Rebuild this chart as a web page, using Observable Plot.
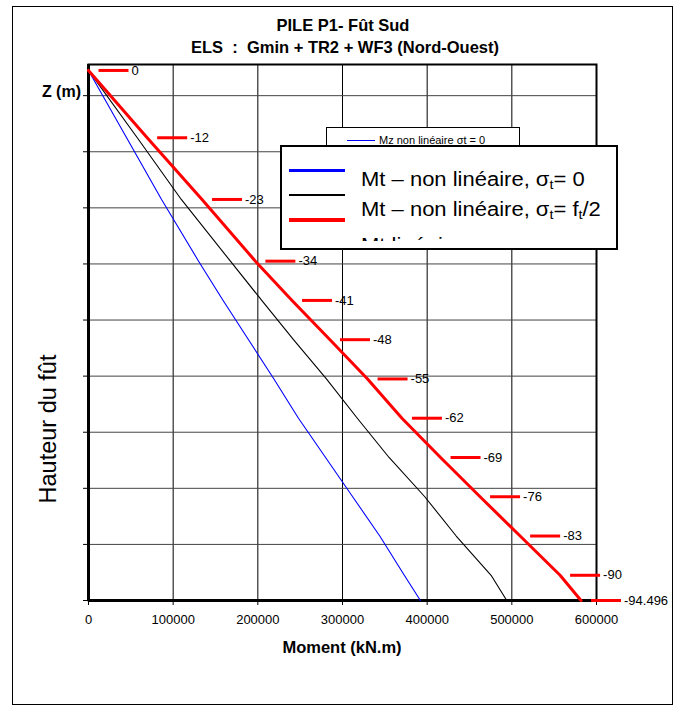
<!DOCTYPE html>
<html>
<head>
<meta charset="utf-8">
<script src="https://cdn.jsdelivr.net/npm/d3@7"></script>
<script src="https://cdn.jsdelivr.net/npm/@observablehq/plot@0.6"></script>
<style>
  body { margin: 0; background: #fff; font-family: "Liberation Sans", Arial, sans-serif; color: #000; }
  #wrap { position: relative; width: 675px; height: 708px; overflow: hidden; background: #fff; }
  #wrap svg { position: absolute; left: 0; top: 0; }
  .abs { position: absolute; white-space: pre; line-height: 1; }
  .bold { font-weight: bold; }
  .sample { position: absolute; }
  .wide { transform: scaleX(1.1); transform-origin: 0 50%; }
  sub { font-size: 0.65em; vertical-align: -0.25em; line-height: 0; }
</style>
</head>
<body>
<div id="wrap">
  <div class="abs" style="left:12px;top:6px;width:661px;height:699px;border:1.5px solid #000;box-sizing:border-box;"></div>

  <div class="abs bold" style="left:0;width:686px;top:17px;font-size:16.5px;text-align:center;">PILE P1- Fût Sud</div>
  <div class="abs bold" style="left:0;width:690px;top:39px;font-size:16.5px;text-align:center;">ELS  :  Gmin + TR2 + WF3 (Nord-Ouest)</div>
  <div class="abs bold" style="left:0;width:81px;top:84px;font-size:16px;text-align:right;">Z (m)</div>
  <div class="abs bold" style="left:0;width:684px;top:639px;font-size:16.5px;text-align:center;">Moment (kN.m)</div>
  <div class="abs" style="left:-52px;top:414px;width:200px;height:30px;line-height:30px;font-size:23.5px;text-align:center;transform:rotate(-90deg);transform-origin:50% 50%;">Hauteur du fût</div>

  <!-- small legend (partly hidden) -->
  <div class="abs" style="left:326px;top:127px;width:194px;height:30px;border:1px solid #000;background:#fff;box-sizing:border-box;"></div>
  <div class="sample" style="left:347px;top:139.5px;width:28px;height:1px;background:#0000ff;"></div>
  <div class="abs" style="left:379px;top:135px;font-size:11px;">Mz non linéaire σt = 0</div>

  <!-- big legend -->
  <div class="abs" style="left:280px;top:145px;width:338px;height:105px;border:2px solid #000;background:#fff;box-sizing:border-box;"></div>
  <div class="sample" style="left:289px;top:168.5px;width:56px;height:3px;background:#0000ff;"></div>
  <div class="sample" style="left:289px;top:193.8px;width:56px;height:2.5px;background:#000;"></div>
  <div class="sample" style="left:289px;top:218.3px;width:56px;height:3.5px;background:#ff0000;"></div>
  <div class="abs" style="left:282px;top:147px;width:333px;height:94px;overflow:hidden;">
    <div class="abs wide" style="left:79px;top:21.6px;font-size:20px;">Mt – non linéaire, σ<sub>t</sub>= 0</div>
    <div class="abs wide" style="left:79px;top:51.6px;font-size:20px;">Mt – non linéaire, σ<sub>t</sub>= f<sub>t</sub>/2</div>
    <div class="abs wide" style="left:79px;top:88px;font-size:20px;">Mt linéaire</div>
  </div>
</div>
<script>
// Levels along the pile shaft (m) and their labels
const levels = [0, -12, -23, -34, -41, -48, -55, -62, -69, -76, -83, -90, -94.496];
const levelLabels = ["0", "-12", "-23", "-34", "-41", "-48", "-55", "-62", "-69", "-76", "-83", "-90", "-94.496"];
// Moments (kN.m)
const mtRed   = [0, 69300, 134100, 197100, 240400, 285200, 329600, 370200, 415800, 462500, 509800, 557000, 581700];
const mtBlack = [0, 57600, 109600, 167600, 204600, 242100, 281000, 317500, 355000, 397200, 434300, 475500, 494000];
const mtBlue  = [0, 45000, 86300, 130000, 159000, 189000, 219000, 248000, 280000, 312000, 344000, 373000, 392000];
// Axis ticks
const xTicks = [0, 100000, 200000, 300000, 400000, 500000, 600000];
const xGrid = [100000, 200000, 300000, 400000, 500000];
const yTicks = [-94.496, -84.496, -74.496, -64.496, -54.496, -44.496, -34.496, -24.496, -14.496, -4.496];

const rows = levels.map((z, i) => ({z, label: levelLabels[i], red: mtRed[i], black: mtBlack[i], blue: mtBlue[i]}));

const dash = {
  draw(ctx, size) {
    const r = Math.sqrt(size / Math.PI);
    ctx.moveTo(-r, 0);
    ctx.lineTo(r, 0);
  }
};

const chart = Plot.plot({
  width: 675,
  height: 708,
  marginLeft: 88,
  marginRight: 79,
  marginTop: 64,
  marginBottom: 108,
  style: {fontFamily: '"Liberation Sans", Arial, sans-serif', fontSize: "13px", background: "transparent", color: "#000"},
  x: {domain: [0, 600000]},
  y: {domain: [-94.496, 1.06]},
  marks: [
    Plot.gridX(xGrid, {stroke: "#000", strokeOpacity: 1, strokeWidth: 1}),
    Plot.gridY(yTicks, {stroke: "#444", strokeOpacity: 1, strokeWidth: 1}),
    Plot.frame({stroke: "#000", strokeWidth: 2}),
    Plot.axisX(xTicks, {tickSize: 5, tickPadding: 9, tickFormat: d3.format("d"), label: null, fontSize: 13}),
    Plot.axisY(yTicks, {tickSize: 5, tickFormat: () => "", label: null}),
    Plot.ruleX([0], {stroke: "#000", strokeWidth: 3}),
    Plot.ruleY([-94.496], {stroke: "#000", strokeWidth: 3}),
    Plot.line(rows, {x: "blue", y: "z", stroke: "#0000ff", strokeWidth: 1.1}),
    Plot.line(rows, {x: "black", y: "z", stroke: "#000", strokeWidth: 1.1}),
    Plot.line(rows, {x: "red", y: "z", stroke: "#ff0000", strokeWidth: 3}),
    Plot.dot(rows, {x: "red", y: "z", symbol: dash, r: 15, dx: 25, stroke: "#ff0000", fill: "none", strokeWidth: 3}),
    Plot.text(rows, {x: "red", y: "z", text: "label", dx: 43, textAnchor: "start", fill: "#000", fontSize: 13})
  ]
});
const wrap = document.getElementById("wrap");
wrap.insertBefore(chart, wrap.firstChild);
</script>
</body>
</html>
